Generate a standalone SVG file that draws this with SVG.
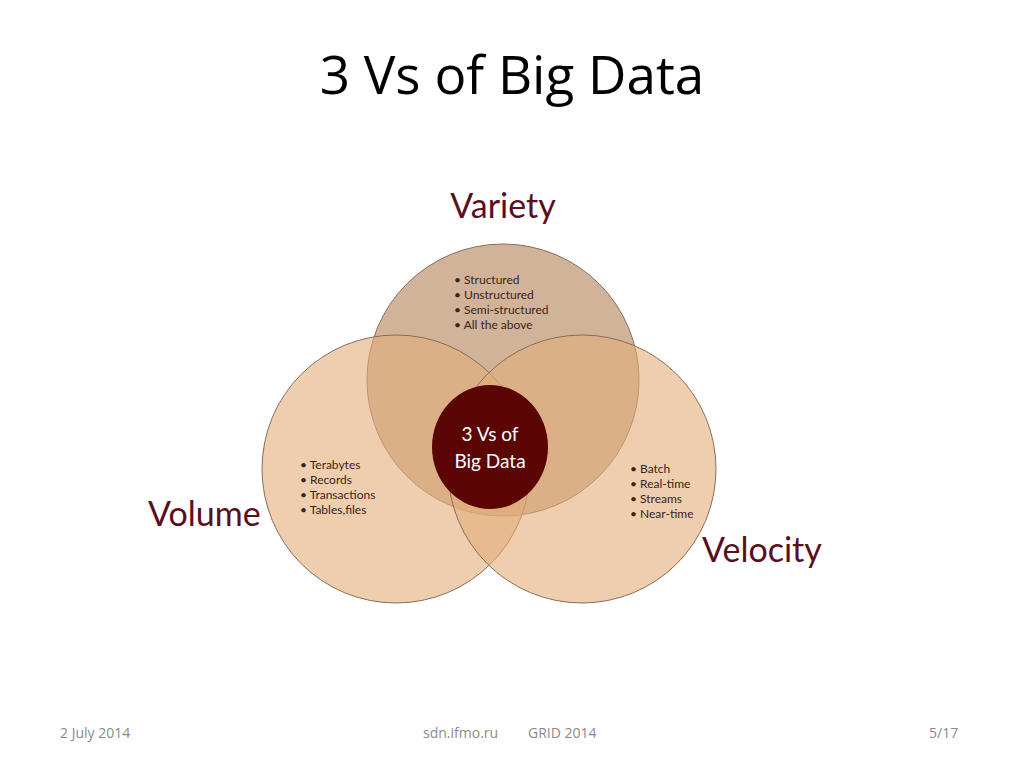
<svg xmlns="http://www.w3.org/2000/svg" width="1024" height="768" viewBox="0 0 1024 768">
<style>
.c{stroke:#8a6e5a;stroke-width:1}
.lb{font-family:"Lato","Open Sans",sans-serif;fill:#5a0f1e;font-size:34px}
.it{font-family:"Lato","Open Sans",sans-serif;fill:#3a2418;font-size:12px}
.ft{font-family:"Open Sans","Liberation Sans",sans-serif;fill:#8a8a8a;font-size:14px}
</style>
<rect width="1024" height="768" fill="#fff"/>
<text x="512" y="94" text-anchor="middle" font-family="'Open Sans','Liberation Sans',sans-serif" font-size="53" fill="#000">3 Vs of Big Data</text>
<g id="variety"><circle class="c" cx="503" cy="380" r="136" fill="#b88a62" fill-opacity="0.65"/></g>
<g id="volume"><circle class="c" cx="396" cy="469" r="134" fill="#e2ad7a" fill-opacity="0.6"/></g>
<g id="velocity"><circle class="c" cx="582" cy="469" r="134" fill="#e2ad7a" fill-opacity="0.6"/></g>
<g id="center"><ellipse cx="490" cy="447" rx="58" ry="62" fill="#5c0505"/>
<text x="490" y="441" text-anchor="middle" font-family="Lato,'Open Sans',sans-serif" font-size="19" fill="#fff">3 Vs of</text>
<text x="490" y="468" text-anchor="middle" font-family="Lato,'Open Sans',sans-serif" font-size="19" fill="#fff">Big Data</text></g>
<g id="labels">
<text class="lb" x="503" y="218" text-anchor="middle">Variety</text>
<text class="lb" x="148" y="526">Volume</text>
<text class="lb" x="702" y="562">Velocity</text>
</g>
<g id="items">
<text class="it" x="454" y="284">• Structured</text>
<text class="it" x="454" y="299">• Unstructured</text>
<text class="it" x="454" y="314">• Semi-structured</text>
<text class="it" x="454" y="329">• All the above</text>
<text class="it" x="300" y="469">• Terabytes</text>
<text class="it" x="300" y="484">• Records</text>
<text class="it" x="300" y="499">• Transactions</text>
<text class="it" x="300" y="514">• Tables,files</text>
<text class="it" x="630" y="473">• Batch</text>
<text class="it" x="630" y="488">• Real-time</text>
<text class="it" x="630" y="503">• Streams</text>
<text class="it" x="630" y="518">• Near-time</text>
</g>
<g id="footer">
<text class="ft" x="60" y="738">2 July 2014</text>
<text class="ft" x="423" y="738">sdn.ifmo.ru</text>
<text class="ft" x="528" y="738">GRID 2014</text>
<text class="ft" x="929" y="738">5/17</text>
</g>
</svg>
